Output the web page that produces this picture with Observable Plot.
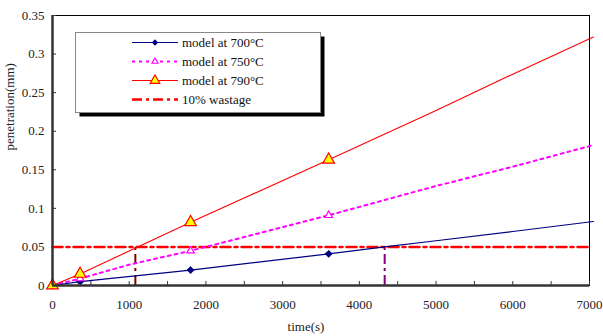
<!DOCTYPE html>
<html>
<head>
<meta charset="utf-8">
<script src="https://cdn.jsdelivr.net/npm/d3@7"></script>
<script src="https://cdn.jsdelivr.net/npm/@observablehq/plot@0.6"></script>
<style>
  html, body { margin: 0; padding: 0; background: #fff; }
  #wrap { position: relative; width: 603px; height: 336px; font-family: "Liberation Serif", serif; }
  #wrap svg, #wrap svg text { font-family: "Liberation Serif", serif !important; }
  #legend { position: absolute; left: 75px; top: 32px; }
</style>
</head>
<body>
<div id="wrap"></div>
<script>
// ---- data ----
const markerTimes = [0, 360, 1800, 3600];

const t700 = [0, 360, 1800, 3600, 4330, 5000, 6000, 7050];
const p700 = [0, 0.005, 0.020, 0.041, 0.050, 0.058, 0.070, 0.083];
const m700 = [0, 0.005, 0.020, 0.041];

const t750 = [0, 360, 1000, 1800, 3600, 5000, 6000, 7050];
const p750 = [0, 0.009, 0.027, 0.045, 0.091, 0.129, 0.154, 0.182];
const m750 = [0, 0.009, 0.045, 0.091];

const t790 = [0, 360, 1800, 3600, 5000, 6000, 7050];
const p790 = [0, 0.015, 0.082, 0.163, 0.227, 0.274, 0.322];
const m790 = [0, 0.015, 0.082, 0.163];

const wastageLevel = 0.05;
const wastageRange = [0, 7000];
const crossTimes = [1080, 4330];
const crossColors = ["#800000", "#800080"];

const xTickLabels = [0, 1000, 2000, 3000, 4000, 5000, 6000, 7000];
const xMinorTicks = [0, 500, 1000, 1500, 2000, 2500, 3000, 3500, 4000, 4500, 5000, 5500, 6000, 6500, 7000];
const yTicks = [0, 0.05, 0.1, 0.15, 0.2, 0.25, 0.3, 0.35];

const seriesNames = ["model at 700°C", "model at 750°C", "model at 790°C", "10% wastage"];
const xLabel = "time(s)";
const yLabel = "penetration(mm)";

// ---- build tables ----
const zip = (ts, ps) => ts.map((t, i) => ({t, p: ps[i]}));
const line700 = zip(t700, p700), line750 = zip(t750, p750), line790 = zip(t790, p790);
const dots700 = zip(markerTimes, m700), dots750 = zip(markerTimes, m750), dots790 = zip(markerTimes, m790);
const wastage = wastageRange.map(t => ({t, p: wastageLevel}));
const cross = crossTimes.map((t, i) => ({t, p: wastageLevel, c: crossColors[i]}));

const FONT = "'Liberation Serif', serif";
const W = 603, H = 336, ML = 52, MR = 14, MT = 15, MB = 51;
const FW = W - ML - MR, FH = H - MT - MB;
const dashDot = "10,4,3,4";

const chart = Plot.plot({
  width: W, height: H,
  marginLeft: ML, marginRight: MR, marginTop: MT, marginBottom: MB,
  style: {fontFamily: FONT, fontSize: "13px", color: "#222", background: "#fff", overflow: "visible"},
  x: {domain: [0, 7000]},
  y: {domain: [0, 0.35]},
  marks: [
    Plot.frame({stroke: "#000", strokeWidth: 1}),
    Plot.tickX(xMinorTicks, {x: d => d, insetTop: FH - 4, stroke: "#333"}),
    Plot.tickY(yTicks, {y: d => d, insetRight: FW - 4, stroke: "#333"}),
    Plot.axisX({ticks: xTickLabels, tickSize: 0, tickPadding: 14, tickFormat: d => String(d), label: null, fontSize: 13}),
    Plot.axisY({ticks: yTicks, tickSize: 0, tickPadding: 8, tickFormat: d => String(d), label: null, fontSize: 13}),
    Plot.ruleX(cross, {x: "t", y1: 0, y2: "p", stroke: "c", strokeWidth: 2, strokeDasharray: dashDot}),
    Plot.line(wastage, {x: "t", y: "p", stroke: "#ff0000", strokeWidth: 2.5, strokeDasharray: dashDot}),
    Plot.line(line750, {x: "t", y: "p", stroke: "#ff00ff", strokeWidth: 2, strokeDasharray: "3,4"}),
    Plot.line(line700, {x: "t", y: "p", stroke: "#000080", strokeWidth: 1.2}),
    Plot.line(line790, {x: "t", y: "p", stroke: "#ff0000", strokeWidth: 1.1}),
    Plot.dot(dots700, {x: "t", y: "p", symbol: "diamond2", r: 2.6, fill: "#000080", stroke: "#000080"}),
    Plot.dot(dots750, {x: "t", y: "p", symbol: "triangle", r: 2.8, fill: "#fff", stroke: "#ff00ff", strokeWidth: 1.2}),
    Plot.dot(dots790, {x: "t", y: "p", symbol: "triangle", r: 4.3, fill: "#ffff00", stroke: "#ff0000", strokeWidth: 1.2}),
    Plot.ruleY([0], {stroke: "#333", strokeWidth: 2.5}),
    Plot.ruleX([0], {stroke: "#333", strokeWidth: 2.5}),
    Plot.text([xLabel], {frameAnchor: "bottom", dy: 45, dx: -15, fontSize: 13, fill: "#222", fontFamily: FONT}),
    Plot.text([yLabel], {frameAnchor: "left", rotate: -90, dx: -43, fontSize: 13, fill: "#222", fontFamily: FONT})
  ]
});
document.getElementById("wrap").appendChild(chart);

// ---- legend ----
const legendStyles = [
  {stroke: "#000080", dash: null, width: 1.2, symbol: d3.symbolDiamond2, size: 14, fill: "#000080", mstroke: "#000080"},
  {stroke: "#ff00ff", dash: "3,4", width: 2, symbol: d3.symbolTriangle, size: 16, fill: "#fff", mstroke: "#ff00ff"},
  {stroke: "#ff0000", dash: null, width: 1.2, symbol: d3.symbolTriangle, size: 40, fill: "#ffff00", mstroke: "#ff0000"},
  {stroke: "#ff0000", dash: dashDot, width: 2.5, symbol: null}
];
const lg = d3.select("#wrap").append("svg")
  .attr("id", "legend").attr("width", 252).attr("height", 88);
lg.append("rect").attr("x", 4.5).attr("y", 4.5).attr("width", 245).attr("height", 80).attr("fill", "#000");
lg.append("rect").attr("x", 0.5).attr("y", 0.5).attr("width", 245).attr("height", 80)
  .attr("fill", "#fff").attr("stroke", "#888").attr("stroke-width", 1);
seriesNames.forEach((name, i) => {
  const s = legendStyles[i];
  const y = 10.5 + i * 19;
  const g = lg.append("g");
  g.append("line").attr("x1", 57).attr("x2", 103).attr("y1", y).attr("y2", y)
    .attr("stroke", s.stroke).attr("stroke-width", s.width)
    .attr("stroke-dasharray", s.dash);
  if (s.symbol) {
    g.append("path").attr("d", d3.symbol(s.symbol, s.size)())
      .attr("transform", `translate(80,${y})`)
      .attr("fill", s.fill).attr("stroke", s.mstroke).attr("stroke-width", 1.2);
  }
  g.append("text").attr("x", 107).attr("y", y).attr("dy", "0.35em")
    .style("font-family", FONT)
    .attr("font-size", 13).attr("fill", "#111").text(name);
});
</script>
</body>
</html>
